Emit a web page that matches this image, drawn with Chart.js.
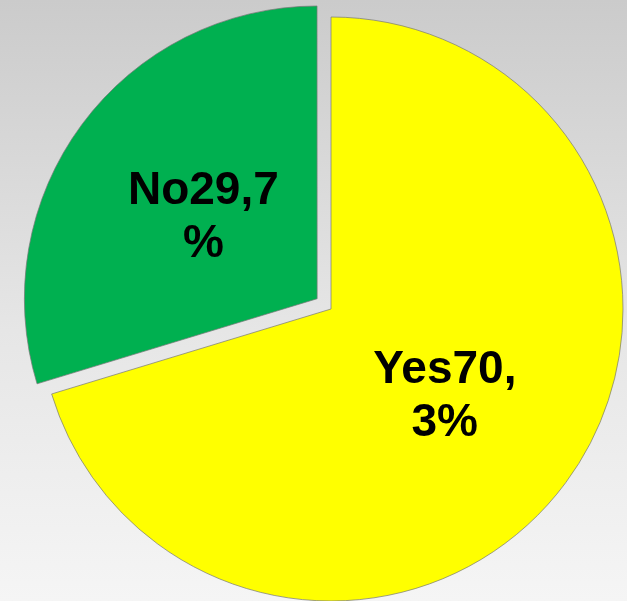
<!DOCTYPE html>
<html lang="en">
<head>
    <meta charset="UTF-8" />
    <title>Yes / No</title>
    <script src="https://cdn.jsdelivr.net/npm/chart.js@4/dist/chart.umd.min.js"></script>
    <style>
        html, body { margin: 0; padding: 0; overflow: hidden; }
        body {
            width: 627px; height: 601px;
            background: linear-gradient(to bottom, #cbcbcb 0%, #e6e6e6 55%, #f5f5f5 100%);
        }
        #chartBox { position: relative; width: 627px; height: 601px; }
    </style>
</head>
<body>
    <div id="chartBox">
        <canvas id="pieChart"></canvas>
    </div>
    <script>
        const categories = ['Yes', 'No'];
        const values = [70.3, 29.7];
        const sliceColors = ['#ffff00', '#00b050'];
        // Chart.js v4 draws an arc shifted by offset / 4
        const sliceOffsets = [0, 69];

        // labels like "No29,7%" wrapped by width, as in the original
        function wrapChars(ctx, text, maxWidth) {
            const lines = [];
            let line = '';
            for (const ch of text) {
                if (line && ctx.measureText(line + ch).width > maxWidth) {
                    lines.push(line);
                    line = ch;
                } else {
                    line += ch;
                }
            }
            if (line) lines.push(line);
            return lines;
        }

        const sliceLabels = {
            id: 'sliceLabels',
            afterDatasetsDraw(chart) {
                const ctx = chart.ctx;
                const meta = chart.getDatasetMeta(0);
                ctx.save();
                ctx.font = 'bold 46px "Liberation Sans", Arial, sans-serif';
                ctx.fillStyle = '#000';
                ctx.textAlign = 'center';
                ctx.textBaseline = 'alphabetic';
                meta.data.forEach((arc, i) => {
                    const p = arc.getProps(['x', 'y', 'startAngle', 'endAngle', 'outerRadius'], true);
                    const mid = (p.startAngle + p.endAngle) / 2;
                    const shift = sliceOffsets[i] / 4 + p.outerRadius * 0.485;
                    const cx = p.x + Math.cos(mid) * shift;
                    const cy = p.y + Math.sin(mid) * shift;
                    const text = categories[i] + values[i].toString().replace('.', ',') + '%';
                    const lines = wrapChars(ctx, text, 155);
                    const lh = 53;
                    const top = cy - (lines.length - 1) * lh / 2;
                    lines.forEach((ln, k) => {
                        ctx.fillText(ln, cx, top + k * lh + 16.5);
                    });
                });
                ctx.restore();
            }
        };

        new Chart(document.getElementById('pieChart'), {
            type: 'pie',
            data: {
                labels: categories,
                datasets: [{
                    data: values,
                    backgroundColor: sliceColors,
                    borderColor: 'rgba(120,120,120,0.7)',
                    borderWidth: 1,
                    offset: sliceOffsets
                }]
            },
            options: {
                responsive: true,
                maintainAspectRatio: false,
                animation: false,
                radius: 292,
                layout: { padding: { left: 35, right: 0, top: 17, bottom: 0 } },
                plugins: {
                    legend: { display: false },
                    tooltip: { enabled: false }
                }
            },
            plugins: [sliceLabels]
        });
    </script>
</body>
</html>
